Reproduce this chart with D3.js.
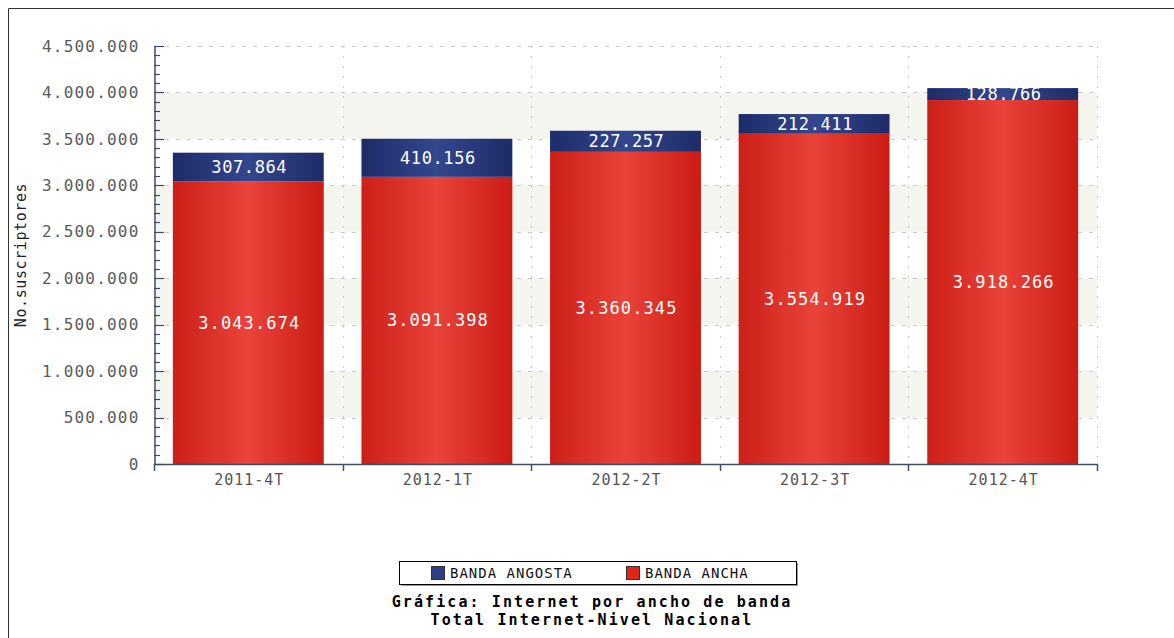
<!DOCTYPE html>
<html>
<head>
<meta charset="utf-8">
<script src="https://cdn.jsdelivr.net/npm/d3@7"></script>
<style>
  body { margin: 0; background: #fff; }
  svg { display: block; }
</style>
</head>
<body>
<svg id="chart" width="1174" height="638"></svg>
<script>
const categories = ["2011-4T", "2012-1T", "2012-2T", "2012-3T", "2012-4T"];
const bandaAncha = [3043674, 3091398, 3360345, 3554919, 3918266];
const bandaAngosta = [307864, 410156, 227257, 212411, 128766];
const seriesNames = ["BANDA ANGOSTA", "BANDA ANCHA"];
const yTicks = [0, 500000, 1000000, 1500000, 2000000, 2500000, 3000000, 3500000, 4000000, 4500000];
const yTitle = "No.suscriptores";
const titleLines = ["Gráfica: Internet por ancho de banda", "Total Internet-Nivel Nacional"];

(function () {
const svg = d3.select("#chart");
const W = 1174, H = 638;
const pLeft = 154, pRight = 1097, pTop = 46, pBottom = 464;
const mono = "'DejaVu Sans Mono', 'Liberation Mono', monospace";
const fmt = v => d3.format(",")(v).replace(/,/g, ".");

// frame (left and top border)
svg.append("line").attr("x1", 8.5).attr("x2", 8.5).attr("y1", 8.5).attr("y2", H).attr("stroke", "#333").attr("stroke-width", 1);
svg.append("line").attr("x1", 8.5).attr("x2", W).attr("y1", 8.5).attr("y2", 8.5).attr("stroke", "#333").attr("stroke-width", 1);

const defs = svg.append("defs");
const gr = defs.append("linearGradient").attr("id", "gRed").attr("x1", "0%").attr("x2", "100%");
gr.append("stop").attr("offset", "0%").attr("stop-color", "#cc1f17");
gr.append("stop").attr("offset", "50%").attr("stop-color", "#e9433a");
gr.append("stop").attr("offset", "100%").attr("stop-color", "#cb1c14");
const gb = defs.append("linearGradient").attr("id", "gBlue").attr("x1", "0%").attr("x2", "100%");
gb.append("stop").attr("offset", "0%").attr("stop-color", "#1e2b68");
gb.append("stop").attr("offset", "50%").attr("stop-color", "#33478e");
gb.append("stop").attr("offset", "100%").attr("stop-color", "#1e2b68");

const x = d3.scaleBand().domain(categories).range([pLeft, pRight]).paddingInner(0.2).paddingOuter(0.1);
const y = d3.scaleLinear().domain([0, 4500000]).range([pBottom, pTop]);

// shaded bands
const bandPairs = [[500000, 1000000], [1500000, 2000000], [2500000, 3000000], [3500000, 4000000]];
svg.append("g").selectAll("rect").data(bandPairs).join("rect")
  .attr("x", pLeft + 1).attr("width", pRight - pLeft - 1)
  .attr("y", d => y(d[1])).attr("height", d => y(d[0]) - y(d[1]))
  .attr("fill", "#f5f5f0");

// horizontal grid
svg.append("g").selectAll("line").data(yTicks.filter(t => t > 0)).join("line")
  .attr("x1", pLeft).attr("x2", pRight)
  .attr("y1", d => Math.round(y(d)) + 0.5).attr("y2", d => Math.round(y(d)) + 0.5)
  .attr("stroke", "#c8c8c8").attr("stroke-dasharray", "4,7");

// vertical grid at category boundaries
const step = x.step();
const bounds = categories.map((c, i) => pLeft + step * (i + 1));
svg.append("g").selectAll("line").data(bounds).join("line")
  .attr("x1", d => Math.round(d) + 0.5).attr("x2", d => Math.round(d) + 0.5)
  .attr("y1", pTop).attr("y2", pBottom)
  .attr("stroke", "#c8c8c8").attr("stroke-dasharray", "2,8");

// bars
const g = svg.append("g");
categories.forEach((c, i) => {
  const a = bandaAncha[i], n = bandaAngosta[i];
  g.append("rect").attr("x", x(c)).attr("width", x.bandwidth())
    .attr("y", y(a)).attr("height", y(0) - y(a)).attr("fill", "url(#gRed)");
  g.append("rect").attr("x", x(c)).attr("width", x.bandwidth())
    .attr("y", y(a + n)).attr("height", y(a) - y(a + n)).attr("fill", "url(#gBlue)");
  g.append("text").attr("x", x(c) + x.bandwidth() / 2 + 1).attr("y", y(a / 2))
    .attr("dy", "0.35em").attr("text-anchor", "middle")
    .attr("font-family", mono).attr("font-size", 17).attr("letter-spacing", 1.1)
    .attr("fill", "#fff").text(fmt(a));
  g.append("text").attr("x", x(c) + x.bandwidth() / 2 + 1).attr("y", y(a + n / 2))
    .attr("dy", "0.35em").attr("text-anchor", "middle")
    .attr("font-family", mono).attr("font-size", 17).attr("letter-spacing", 0.6)
    .attr("fill", "#fff").text(fmt(n));
});

// y axis
const axisColor = "#3f4f63";
const yAxis = d3.axisLeft(y).tickValues(yTicks).tickFormat(fmt).tickSize(0).tickPadding(16);
const ya = svg.append("g").attr("transform", `translate(${pLeft + 0.5},0)`).call(yAxis);
ya.select(".domain").attr("stroke", axisColor).attr("stroke-width", 1.5);
ya.selectAll("text").attr("font-family", mono).attr("font-size", 16).attr("letter-spacing", 1.2)
  .attr("fill", "#5a5a5a").attr("dx", 1);
// minor & major ticks pointing inward
const minor = d3.range(0, 4500001, 100000);
svg.append("g").selectAll("line").data(minor).join("line")
  .attr("x1", pLeft).attr("x2", d => pLeft + (d % 500000 === 0 ? 10 : 6))
  .attr("y1", d => Math.round(y(d)) + 0.5).attr("y2", d => Math.round(y(d)) + 0.5)
  .attr("stroke", axisColor).attr("stroke-width", 1.2);

// x axis
svg.append("line").attr("x1", pLeft).attr("x2", pRight + 1).attr("y1", pBottom + 0.5).attr("y2", pBottom + 0.5)
  .attr("stroke", axisColor).attr("stroke-width", 1.5);
svg.append("g").selectAll("line").data([pLeft].concat(bounds)).join("line")
  .attr("x1", d => Math.round(d) + 0.5).attr("x2", d => Math.round(d) + 0.5)
  .attr("y1", pBottom).attr("y2", pBottom + 7)
  .attr("stroke", axisColor).attr("stroke-width", 1.5);
svg.append("g").selectAll("text").data(categories).join("text")
  .attr("x", d => x(d) + x.bandwidth() / 2 + 1).attr("y", pBottom + 10)
  .attr("dy", "0.71em").attr("text-anchor", "middle")
  .attr("font-family", mono).attr("font-size", 15).attr("letter-spacing", 1.0)
  .attr("fill", "#555").text(d => d);

// y title
svg.append("text").attr("transform", `translate(26,255) rotate(-90)`)
  .attr("text-anchor", "middle").attr("font-family", mono).attr("font-size", 15)
  .attr("letter-spacing", 0.6).attr("fill", "#222").text(yTitle);

// legend
const lx = 399, ly = 561, lw = 397, lh = 23;
svg.append("rect").attr("x", lx + 2).attr("y", ly + 2).attr("width", lw).attr("height", lh).attr("fill", "#999");
svg.append("rect").attr("x", lx + 0.5).attr("y", ly + 0.5).attr("width", lw).attr("height", lh)
  .attr("fill", "#fff").attr("stroke", "#000");
const legX = [431, 626];
const legFill = ["#2e3f85", "#e0251c"];
seriesNames.forEach((s, i) => {
  svg.append("rect").attr("x", legX[i] + 0.5).attr("y", ly + 5.5).attr("width", 13).attr("height", 13)
    .attr("fill", legFill[i]).attr("stroke", "#333");
  svg.append("text").attr("x", legX[i] + 19).attr("y", ly + lh / 2 + 1).attr("dy", "0.35em")
    .attr("font-family", mono).attr("font-size", 14).attr("letter-spacing", 1.0)
    .attr("fill", "#111").text(s);
});

// title
titleLines.forEach((t, i) => {
  svg.append("text").attr("x", 592).attr("y", 602 + i * 18).attr("dy", "0.35em")
    .attr("text-anchor", "middle").attr("font-family", mono).attr("font-weight", "bold")
    .attr("font-size", 15).attr("letter-spacing", 2.1).attr("fill", "#000").text(t);
});
})();
</script>
</body>
</html>
